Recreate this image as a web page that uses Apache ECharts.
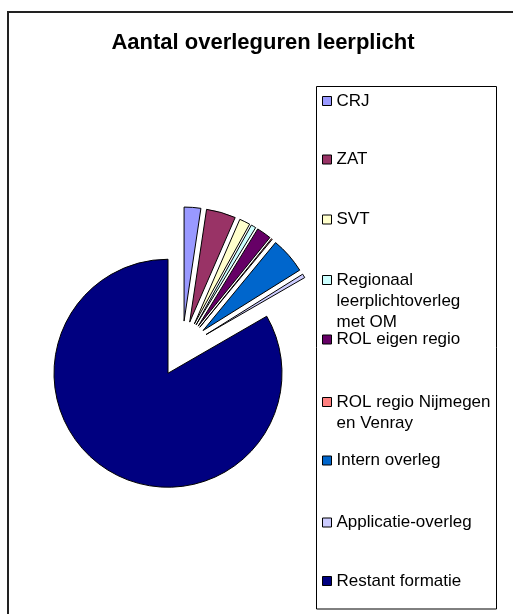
<!DOCTYPE html>
<html>
<head>
<meta charset="utf-8">
<title>Aantal overleguren leerplicht</title>
<script src="https://cdn.jsdelivr.net/npm/echarts@6/dist/echarts.min.js"></script>
<style>
  html, body { margin: 0; padding: 0; background: #fff; }
  #chart { width: 513px; height: 614px; }
</style>
</head>
<body>
<div id="chart"></div>
<script>
const categories = [
  'CRJ',
  'ZAT',
  'SVT',
  'Regionaal leerplichtoverleg met OM',
  'ROL eigen regio',
  'ROL regio Nijmegen en Venray',
  'Intern overleg',
  'Applicatie-overleg',
  'Restant formatie'
]
const legendLabels = [
  'CRJ',
  'ZAT',
  'SVT',
  'Regionaal\nleerplichtoverleg\nmet OM',
  'ROL eigen regio',
  'ROL regio Nijmegen\nen Venray',
  'Intern overleg',
  'Applicatie-overleg',
  'Restant formatie'
]
const hours = [17, 30, 11, 5, 15, 1, 37, 4, 600]
const colors = ['#9999FF', '#993366', '#FFFFCC', '#CCFFFF', '#660066', '#FF8080', '#0066CC', '#CCCCFF', '#000080']

// layout van de legenda (midden van elk icoon)
const legendIconY = [101, 159.5, 219.5, 280, 339.5, 402, 460.5, 522.5, 581]
const LINE_H = 21
const FONT = 'Liberation Sans, Arial, sans-serif'

const chart = echarts.init(document.getElementById('chart'))

// één legenda per item, zodat de plaats per item vast ligt
const legends = categories.map((name, i) => {
  const lines = legendLabels[i].split('\n').length
  // lege regels ervoor: tekst wordt rond het icoon gecentreerd,
  // zo staat het icoon naast de eerste regel
  const prefix = '\n'.repeat(lines - 1)
  const outer = (2 * lines - 1) * LINE_H
  return {
    orient: 'vertical',
    left: 322,
    top: legendIconY[i] - outer / 2,
    padding: 0,
    itemWidth: 9,
    itemHeight: 9,
    itemGap: 0,
    icon: 'rect',
    selectedMode: false,
    formatter: () => prefix + legendLabels[i],
    itemStyle: { borderColor: '#000', borderWidth: 1 },
    textStyle: {
      fontFamily: FONT,
      fontSize: 17,
      color: '#000',
      lineHeight: LINE_H,
      backgroundColor: 'transparent'
    },
    data: [name]
  }
})

const option = {
  animation: false,
  color: colors,
  graphic: [
    {
      type: 'rect',
      shape: { x: 8, y: 12, width: 600, height: 700 },
      style: { fill: 'none', stroke: '#222', lineWidth: 2 },
      silent: true
    },
    {
      type: 'rect',
      shape: { x: 316.5, y: 86.5, width: 180, height: 522.5 },
      style: { fill: 'none', stroke: '#000', lineWidth: 1 },
      silent: true
    },
    {
      type: 'text',
      x: 263,
      y: 43,
      style: {
        text: 'Aantal overleguren leerplicht',
        font: 'bold 22px ' + FONT,
        fill: '#000',
        align: 'center',
        verticalAlign: 'middle'
      },
      silent: true
    }
  ],
  legend: legends,
  series: [
    {
      type: 'pie',
      center: [182, 349],
      radius: 114,
      startAngle: 90,
      clockwise: true,
      selectedMode: 'multiple',
      selectedOffset: 28,
      avoidLabelOverlap: false,
      label: { show: false },
      labelLine: { show: false },
      itemStyle: { borderColor: '#000', borderWidth: 1 },
      select: { itemStyle: { borderColor: '#000', borderWidth: 1 } },
      emphasis: { disabled: true },
      data: categories.map((name, i) => ({ name: name, value: hours[i], selected: true }))
    }
  ]
}

chart.setOption(option)
</script>
</body>
</html>
